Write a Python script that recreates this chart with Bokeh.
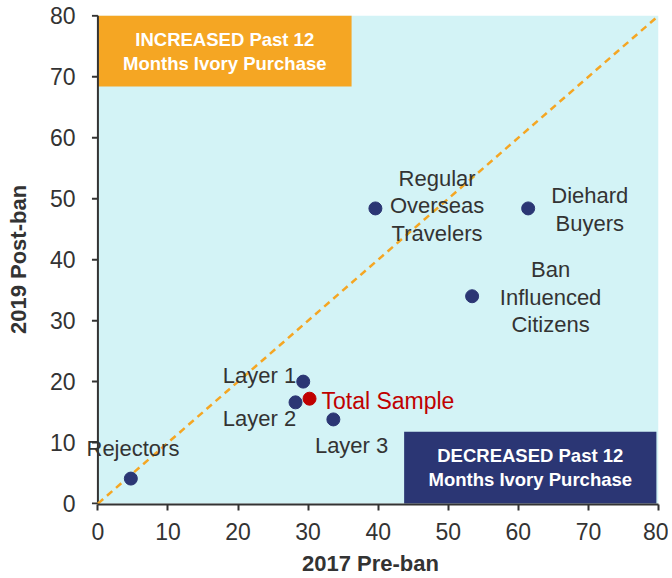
from bokeh.plotting import figure
from bokeh.models import Range1d, FixedTicker, ColumnDataSource
from bokeh.core.properties import value
from bokeh.embed import file_html
from bokeh.resources import INLINE

# Data
groups = ["Rejectors", "Layer 1", "Layer 2", "Layer 3",
          "Regular Overseas Travelers", "Diehard Buyers", "Ban Influenced Citizens"]
pre_2017 = [4.7, 29.3, 28.2, 33.6, 39.6, 61.4, 53.4]
post_2019 = [4.1, 20.0, 16.6, 13.8, 48.4, 48.4, 34.0]
total_label = "Total Sample"
total_pre = [30.2]
total_post = [17.2]
ticks = [0, 10, 20, 30, 40, 50, 60, 70, 80]

FONT = "Liberation Sans"
NAVY = "#2B3674"
ORANGE = "#F5A623"
RED = "#C00000"
TEXT = "#333333"
CYAN = "#D3F3F6"

p = figure(width=668, height=578, output_backend="svg", toolbar_location=None,
           x_range=Range1d(-2.2, 80), y_range=Range1d(-0.15, 80.2),
           min_border_left=82, min_border_right=10, min_border_top=14, min_border_bottom=74)
p.outline_line_color = None
p.background_fill_color = "white"
p.border_fill_color = "white"
p.grid.visible = False

for ax in (p.xaxis[0], p.yaxis[0]):
    ax.ticker = FixedTicker(ticks=ticks)
    ax.axis_line_color = TEXT
    ax.axis_line_width = 2
    ax.major_tick_line_color = TEXT
    ax.major_tick_line_width = 2
    ax.major_tick_out = 6
    ax.major_tick_in = 0
    ax.minor_tick_line_color = None
    ax.major_label_text_font = FONT
    ax.major_label_text_font_size = "23px"
    ax.major_label_text_color = TEXT
    ax.axis_label_text_font = FONT
    ax.axis_label_text_font_size = "22px"
    ax.axis_label_text_font_style = "bold"
    ax.axis_label_text_color = TEXT
p.xaxis.axis_label = "2017 Pre-ban"
p.yaxis.axis_label = "2019 Post-ban"
p.xaxis.bounds = (0, 80)
p.xaxis.major_label_standoff = 12
p.xaxis.axis_label_standoff = 8
# y axis: labels only; line and ticks drawn at x = 0 below
p.yaxis.axis_line_color = None
p.yaxis.major_tick_line_color = None
p.yaxis.major_tick_out = 0
p.yaxis.major_label_standoff = 7
p.yaxis.axis_label_standoff = 16

# Plot area background and quadrant boxes
p.quad(left=0, right=80, bottom=0, top=80, fill_color=CYAN, line_color=None)
p.quad(left=0, right=36.2, bottom=68.4, top=80, fill_color=ORANGE, line_color=None)
p.quad(left=43.7, right=79.7, bottom=0, top=11.8, fill_color=NAVY, line_color=None)
p.text(x=[18.1], y=[74.2], text=["INCREASED Past 12\nMonths Ivory Purchase"],
       text_font=value(FONT), text_font_size="18.5px", text_font_style="bold", text_color="white",
       text_align="center", text_baseline="middle", text_line_height=1.15)
p.text(x=[61.7], y=[5.9], text=["DECREASED Past 12\nMonths Ivory Purchase"],
       text_font=value(FONT), text_font_size="18.5px", text_font_style="bold", text_color="white",
       text_align="center", text_baseline="middle", text_line_height=1.15)

# y axis line and ticks at x = 0
p.segment(x0=[0], y0=[0], x1=[0], y1=[80], line_color=TEXT, line_width=2)
p.segment(x0=[-0.85] * len(ticks), y0=ticks, x1=[0] * len(ticks), y1=ticks,
          line_color=TEXT, line_width=2)

# Diagonal
p.line(x=[0, 80], y=[0, 80], line_color=ORANGE, line_width=2.5, line_dash="7 5")

# Points
src = ColumnDataSource(dict(x=pre_2017, y=post_2019, name=groups))
p.scatter(x="x", y="y", source=src, size=13, fill_color=NAVY, line_color=NAVY)
p.scatter(x=total_pre, y=total_post, size=13, fill_color=RED, line_color=RED)

# Labels
lbl = dict(text_font=value(FONT), text_font_size="22px", text_color=TEXT,
           text_baseline="middle", text_line_height=1.1)
p.text(x=[5.0], y=[9.0], text=[groups[0]], text_align="center", **lbl)
p.text(x=[28.3, 28.3], y=[21.0, 14.0], text=[groups[1], groups[2]], text_align="right", **lbl)
p.text(x=[36.2], y=[9.5], text=[groups[3]], text_align="center", **lbl)
p.text(x=[48.4], y=[48.8], text=["Regular\nOverseas\nTravelers"], text_align="center", **lbl)
p.text(x=[70.2], y=[48.2], text=["Diehard\nBuyers"], text_align="center", **lbl)
p.text(x=[64.6], y=[33.8], text=["Ban\nInfluenced\nCitizens"], text_align="center", **lbl)
p.text(x=[31.9], y=[16.9], text=[total_label], text_align="left",
       text_font=value(FONT), text_font_size="23px", text_color=RED, text_baseline="middle")

open("out.html", "w").write(file_html(p, INLINE))
